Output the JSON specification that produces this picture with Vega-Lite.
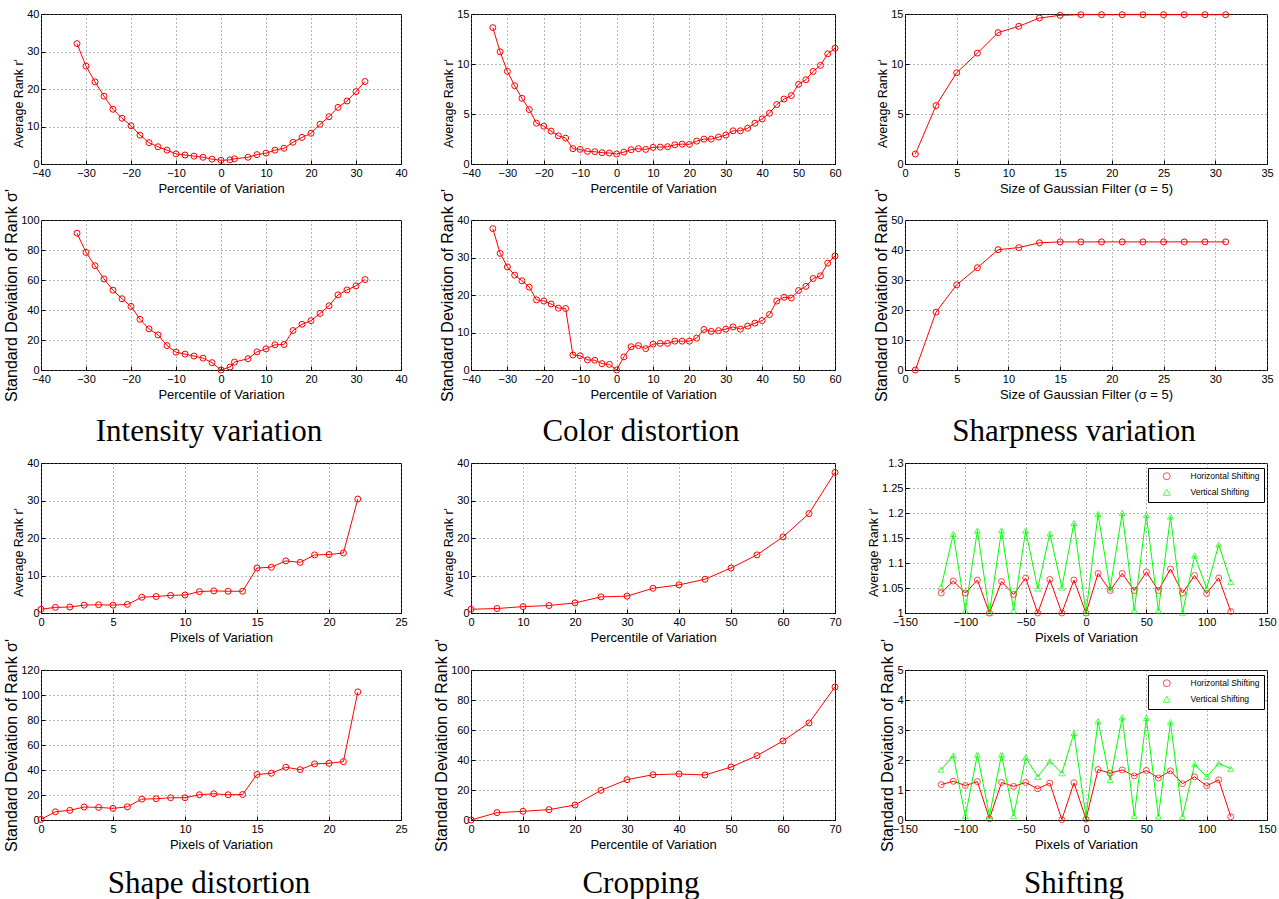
{
"$schema": "https://vega.github.io/schema/vega-lite/v6.json",
"padding": {"left": 3, "top": 7, "right": 0, "bottom": 0},
"background": "white",
"datasets": {
"intensity": [
{"x":-32,"avg":32.1,"std":91.2},{"x":-30,"avg":26.1,"std":78.4},{"x":-28,"avg":21.9,"std":69.5},{"x":-26,"avg":18.1,"std":60.7},{"x":-24,"avg":14.6,"std":53.2},{"x":-22,"avg":12.2,"std":47.5},{"x":-20,"avg":10.2,"std":42.4},{"x":-18,"avg":7.7,"std":33.8},{"x":-16,"avg":5.7,"std":27.4},{"x":-14,"avg":4.6,"std":23.4},{"x":-12,"avg":3.7,"std":16.3},{"x":-10,"avg":2.7,"std":11.9},{"x":-8,"avg":2.4,"std":10.6},{"x":-6,"avg":2.1,"std":9.3},{"x":-4,"avg":1.8,"std":7.9},{"x":-2,"avg":1.3,"std":4.9},{"x":0,"avg":1.0,"std":0},{"x":2,"avg":1.1,"std":2.0},{"x":3,"avg":1.4,"std":5.3},{"x":6,"avg":1.8,"std":7.5},{"x":8,"avg":2.5,"std":12.1},{"x":10,"avg":2.9,"std":14.1},{"x":12,"avg":3.7,"std":16.8},{"x":14,"avg":4.2,"std":17.0},{"x":16,"avg":5.8,"std":26.3},{"x":18,"avg":7.1,"std":30.5},{"x":20,"avg":8.2,"std":32.9},{"x":22,"avg":10.6,"std":37.7},{"x":24,"avg":12.6,"std":42.8},{"x":26,"avg":15.1,"std":50.1},{"x":28,"avg":16.8,"std":53.4},{"x":30,"avg":19.3,"std":56.1},{"x":32,"avg":22.0,"std":60.3}
],
"color": [
{"x":-34,"avg":13.64,"std":37.7},{"x":-32,"avg":11.22,"std":31.1},{"x":-30,"avg":9.26,"std":27.5},{"x":-28,"avg":7.83,"std":25.3},{"x":-26,"avg":6.57,"std":23.8},{"x":-24,"avg":5.44,"std":22.1},{"x":-22,"avg":4.08,"std":18.7},{"x":-20,"avg":3.78,"std":18.4},{"x":-18,"avg":3.29,"std":17.6},{"x":-16,"avg":2.82,"std":16.5},{"x":-14,"avg":2.59,"std":16.4},{"x":-12,"avg":1.53,"std":4.0},{"x":-10,"avg":1.46,"std":3.8},{"x":-8,"avg":1.26,"std":2.7},{"x":-6,"avg":1.23,"std":2.6},{"x":-4,"avg":1.13,"std":1.7},{"x":-2,"avg":1.10,"std":1.5},{"x":0,"avg":1.0,"std":0},{"x":2,"avg":1.19,"std":3.5},{"x":4,"avg":1.43,"std":6.2},{"x":6,"avg":1.53,"std":6.5},{"x":8,"avg":1.46,"std":5.7},{"x":10,"avg":1.66,"std":6.9},{"x":12,"avg":1.69,"std":7.1},{"x":14,"avg":1.73,"std":7.1},{"x":16,"avg":1.92,"std":7.7},{"x":18,"avg":1.99,"std":7.7},{"x":20,"avg":1.96,"std":7.7},{"x":22,"avg":2.29,"std":8.5},{"x":24,"avg":2.49,"std":10.8},{"x":26,"avg":2.49,"std":10.3},{"x":28,"avg":2.69,"std":10.5},{"x":30,"avg":2.89,"std":10.9},{"x":32,"avg":3.32,"std":11.5},{"x":34,"avg":3.32,"std":10.9},{"x":36,"avg":3.58,"std":11.7},{"x":38,"avg":4.08,"std":12.5},{"x":40,"avg":4.51,"std":13.2},{"x":42,"avg":5.08,"std":14.8},{"x":44,"avg":5.94,"std":18.4},{"x":46,"avg":6.5,"std":19.4},{"x":48,"avg":6.84,"std":19.2},{"x":50,"avg":7.97,"std":21.2},{"x":52,"avg":8.43,"std":22.3},{"x":54,"avg":9.26,"std":24.4},{"x":56,"avg":9.86,"std":25.1},{"x":58,"avg":11.02,"std":28.5},{"x":60,"avg":11.58,"std":30.4}
],
"sharp": [
{"x":1,"avg":1.0,"std":0},{"x":3,"avg":5.84,"std":19.3},{"x":5,"avg":9.13,"std":28.4},{"x":7,"avg":11.09,"std":34.1},{"x":9,"avg":13.14,"std":40.1},{"x":11,"avg":13.77,"std":40.8},{"x":13,"avg":14.6,"std":42.4},{"x":15,"avg":14.87,"std":42.7},{"x":17,"avg":14.93,"std":42.7},{"x":19,"avg":14.93,"std":42.7},{"x":21,"avg":14.93,"std":42.7},{"x":23,"avg":14.93,"std":42.7},{"x":25,"avg":14.93,"std":42.7},{"x":27,"avg":14.93,"std":42.7},{"x":29,"avg":14.93,"std":42.7},{"x":31,"avg":14.93,"std":42.7}
],
"shape": [
{"x":0,"avg":1.0,"std":0.5},{"x":1,"avg":1.5,"std":6.6},{"x":2,"avg":1.6,"std":7.7},{"x":3,"avg":2.1,"std":10.4},{"x":4,"avg":2.2,"std":10.1},{"x":5,"avg":2.1,"std":9.3},{"x":6,"avg":2.3,"std":10.6},{"x":7,"avg":4.2,"std":16.7},{"x":8,"avg":4.4,"std":17.0},{"x":9,"avg":4.7,"std":17.8},{"x":10,"avg":4.8,"std":17.8},{"x":11,"avg":5.7,"std":20.2},{"x":12,"avg":5.9,"std":21.0},{"x":13,"avg":5.8,"std":20.2},{"x":14,"avg":5.8,"std":20.4},{"x":15,"avg":12.0,"std":36.4},{"x":16,"avg":12.2,"std":37.4},{"x":17,"avg":13.9,"std":42.2},{"x":18,"avg":13.5,"std":40.3},{"x":19,"avg":15.5,"std":44.9},{"x":20,"avg":15.6,"std":45.4},{"x":21,"avg":16.0,"std":46.7},{"x":22,"avg":30.4,"std":102.5}
],
"crop": [
{"x":0,"avg":1.0,"std":0},{"x":5,"avg":1.2,"std":4.9},{"x":10,"avg":1.7,"std":5.8},{"x":15,"avg":2.0,"std":6.9},{"x":20,"avg":2.7,"std":10.0},{"x":25,"avg":4.3,"std":19.8},{"x":30,"avg":4.5,"std":26.9},{"x":35,"avg":6.6,"std":30.2},{"x":40,"avg":7.5,"std":30.7},{"x":45,"avg":9.0,"std":30.0},{"x":50,"avg":12.0,"std":35.3},{"x":55,"avg":15.5,"std":42.9},{"x":60,"avg":20.3,"std":52.7},{"x":65,"avg":26.5,"std":64.7},{"x":70,"avg":37.5,"std":88.7}
],
"shift": [
{"series":"Horizontal Shifting","x":-120,"avg":1.040,"std":1.18},{"series":"Horizontal Shifting","x":-110,"avg":1.064,"std":1.29},{"series":"Horizontal Shifting","x":-100,"avg":1.040,"std":1.15},{"series":"Horizontal Shifting","x":-90,"avg":1.066,"std":1.28},{"series":"Horizontal Shifting","x":-80,"avg":1.000,"std":0.04},{"series":"Horizontal Shifting","x":-70,"avg":1.063,"std":1.25},{"series":"Horizontal Shifting","x":-60,"avg":1.037,"std":1.12},{"series":"Horizontal Shifting","x":-50,"avg":1.070,"std":1.25},{"series":"Horizontal Shifting","x":-40,"avg":1.000,"std":1.04},{"series":"Horizontal Shifting","x":-30,"avg":1.067,"std":1.23},{"series":"Horizontal Shifting","x":-20,"avg":1.000,"std":0.01},{"series":"Horizontal Shifting","x":-10,"avg":1.066,"std":1.24},{"series":"Horizontal Shifting","x":0,"avg":1.000,"std":0.03},{"series":"Horizontal Shifting","x":10,"avg":1.079,"std":1.68},{"series":"Horizontal Shifting","x":20,"avg":1.045,"std":1.56},{"series":"Horizontal Shifting","x":30,"avg":1.079,"std":1.67},{"series":"Horizontal Shifting","x":40,"avg":1.045,"std":1.47},{"series":"Horizontal Shifting","x":50,"avg":1.082,"std":1.65},{"series":"Horizontal Shifting","x":60,"avg":1.045,"std":1.40},{"series":"Horizontal Shifting","x":70,"avg":1.088,"std":1.64},{"series":"Horizontal Shifting","x":80,"avg":1.040,"std":1.21},{"series":"Horizontal Shifting","x":90,"avg":1.075,"std":1.44},{"series":"Horizontal Shifting","x":100,"avg":1.039,"std":1.14},{"series":"Horizontal Shifting","x":110,"avg":1.070,"std":1.34},{"series":"Horizontal Shifting","x":120,"avg":1.003,"std":0.11},
{"series":"Vertical Shifting","x":-120,"avg":1.052,"std":1.68},{"series":"Vertical Shifting","x":-110,"avg":1.158,"std":2.15},{"series":"Vertical Shifting","x":-100,"avg":1.005,"std":0.13},{"series":"Vertical Shifting","x":-90,"avg":1.165,"std":2.18},{"series":"Vertical Shifting","x":-80,"avg":1.000,"std":0.14},{"series":"Vertical Shifting","x":-70,"avg":1.165,"std":2.18},{"series":"Vertical Shifting","x":-60,"avg":1.005,"std":0.13},{"series":"Vertical Shifting","x":-50,"avg":1.165,"std":2.09},{"series":"Vertical Shifting","x":-40,"avg":1.049,"std":1.44},{"series":"Vertical Shifting","x":-30,"avg":1.159,"std":1.96},{"series":"Vertical Shifting","x":-20,"avg":1.051,"std":1.56},{"series":"Vertical Shifting","x":-10,"avg":1.180,"std":2.90},{"series":"Vertical Shifting","x":0,"avg":1.000,"std":0.11},{"series":"Vertical Shifting","x":10,"avg":1.198,"std":3.29},{"series":"Vertical Shifting","x":20,"avg":1.049,"std":1.33},{"series":"Vertical Shifting","x":30,"avg":1.200,"std":3.42},{"series":"Vertical Shifting","x":40,"avg":1.005,"std":0.14},{"series":"Vertical Shifting","x":50,"avg":1.196,"std":3.40},{"series":"Vertical Shifting","x":60,"avg":1.005,"std":0.12},{"series":"Vertical Shifting","x":70,"avg":1.193,"std":3.26},{"series":"Vertical Shifting","x":80,"avg":1.001,"std":0.11},{"series":"Vertical Shifting","x":90,"avg":1.115,"std":1.86},{"series":"Vertical Shifting","x":100,"avg":1.049,"std":1.44},{"series":"Vertical Shifting","x":110,"avg":1.137,"std":1.89},{"series":"Vertical Shifting","x":120,"avg":1.062,"std":1.71}
]
},
"spacing": 8,
"resolve": {"scale": {"color": "independent", "shape": "independent", "stroke": "independent"}, "legend": {"color": "independent", "shape": "independent", "stroke": "independent"}},
"vconcat": [
{"spacing": -9, "vconcat": [
 {"spacing": 70, "bounds": "flush", "hconcat": [
  {"width":360,"height":150,"data":{"name":"intensity"},
   "mark":{"type":"line","color":"#ff0000","strokeWidth":1,"point":{"filled":false,"size":36,"strokeWidth":1,"color":"#ff0000"}},
   "encoding":{
    "x":{"field":"x","type":"quantitative","scale":{"domain":[-40,40],"nice":false,"zero":false},"axis":{"values":[-40,-30,-20,-10,0,10,20,30,40],"title":"Percentile of Variation"}},
    "y":{"field":"avg","type":"quantitative","scale":{"domain":[0,40],"nice":false,"zero":false},"axis":{"values":[0,10,20,30,40],"title":"Average Rank r'","titleFontSize":12.5,"titleY":89}}}},
  {"width":364,"height":150,"data":{"name":"color"},
   "mark":{"type":"line","color":"#ff0000","strokeWidth":1,"point":{"filled":false,"size":36,"strokeWidth":1,"color":"#ff0000"}},
   "encoding":{
    "x":{"field":"x","type":"quantitative","scale":{"domain":[-40,60],"nice":false,"zero":false},"axis":{"values":[-40,-30,-20,-10,0,10,20,30,40,50,60],"title":"Percentile of Variation"}},
    "y":{"field":"avg","type":"quantitative","scale":{"domain":[0,15],"nice":false,"zero":false},"axis":{"values":[0,5,10,15],"title":"Average Rank r'","titleFontSize":12.5,"titleY":89}}}},
  {"width":362,"height":150,"data":{"name":"sharp"},
   "mark":{"type":"line","color":"#ff0000","strokeWidth":1,"point":{"filled":false,"size":36,"strokeWidth":1,"color":"#ff0000"}},
   "encoding":{
    "x":{"field":"x","type":"quantitative","scale":{"domain":[0,35],"nice":false,"zero":false},"axis":{"values":[0,5,10,15,20,25,30,35],"title":"Size of Gaussian Filter (σ = 5)"}},
    "y":{"field":"avg","type":"quantitative","scale":{"domain":[0,15],"nice":false,"zero":false},"axis":{"values":[0,5,10,15],"title":"Average Rank r'","titleFontSize":12.5,"titleY":89}}}}
 ]},
 {"spacing": 70, "bounds": "flush", "hconcat": [
  {"width":360,"height":150,"data":{"name":"intensity"},
   "title":{"text":"Intensity variation","orient":"bottom","anchor":"middle","frame":"group","font":"Liberation Serif","fontSize":31,"fontWeight":"normal","color":"black","offset":15,"dx":-12},
   "mark":{"type":"line","color":"#ff0000","strokeWidth":1,"point":{"filled":false,"size":36,"strokeWidth":1,"color":"#ff0000"}},
   "encoding":{
    "x":{"field":"x","type":"quantitative","scale":{"domain":[-40,40],"nice":false,"zero":false},"axis":{"values":[-40,-30,-20,-10,0,10,20,30,40],"title":"Percentile of Variation"}},
    "y":{"field":"std","type":"quantitative","scale":{"domain":[0,100],"nice":false,"zero":false},"axis":{"values":[0,20,40,60,80,100],"title":"Standard Deviation of Rank σ'","titleFontSize":16}}}},
  {"width":364,"height":150,"data":{"name":"color"},
   "title":{"text":"Color distortion","orient":"bottom","anchor":"middle","frame":"group","font":"Liberation Serif","fontSize":31,"fontWeight":"normal","color":"black","offset":15,"dx":-12},
   "mark":{"type":"line","color":"#ff0000","strokeWidth":1,"point":{"filled":false,"size":36,"strokeWidth":1,"color":"#ff0000"}},
   "encoding":{
    "x":{"field":"x","type":"quantitative","scale":{"domain":[-40,60],"nice":false,"zero":false},"axis":{"values":[-40,-30,-20,-10,0,10,20,30,40,50,60],"title":"Percentile of Variation"}},
    "y":{"field":"std","type":"quantitative","scale":{"domain":[0,40],"nice":false,"zero":false},"axis":{"values":[0,10,20,30,40],"title":"Standard Deviation of Rank σ'","titleFontSize":16}}}},
  {"width":362,"height":150,"data":{"name":"sharp"},
   "title":{"text":"Sharpness variation","orient":"bottom","anchor":"middle","frame":"group","font":"Liberation Serif","fontSize":31,"fontWeight":"normal","color":"black","offset":15,"dx":-12},
   "mark":{"type":"line","color":"#ff0000","strokeWidth":1,"point":{"filled":false,"size":36,"strokeWidth":1,"color":"#ff0000"}},
   "encoding":{
    "x":{"field":"x","type":"quantitative","scale":{"domain":[0,35],"nice":false,"zero":false},"axis":{"values":[0,5,10,15,20,25,30,35],"title":"Size of Gaussian Filter (σ = 5)"}},
    "y":{"field":"std","type":"quantitative","scale":{"domain":[0,50],"nice":false,"zero":false},"axis":{"values":[0,10,20,30,40,50],"title":"Standard Deviation of Rank σ'","titleFontSize":16}}}}
 ]}
]},
{"spacing": -8,
 "resolve": {"scale": {"color": "independent", "shape": "independent", "stroke": "independent"}, "legend": {"color": "independent", "shape": "independent", "stroke": "independent"}},
 "vconcat": [
 {"spacing": 70, "bounds": "flush",
  "resolve": {"scale": {"color": "independent", "shape": "independent", "stroke": "independent"}, "legend": {"color": "independent", "shape": "independent", "stroke": "independent"}},
  "hconcat": [
  {"width":360,"height":150,"data":{"name":"shape"},
   "mark":{"type":"line","color":"#ff0000","strokeWidth":1,"point":{"filled":false,"size":36,"strokeWidth":1,"color":"#ff0000"}},
   "encoding":{
    "x":{"field":"x","type":"quantitative","scale":{"domain":[0,25],"nice":false,"zero":false},"axis":{"values":[0,5,10,15,20,25],"title":"Pixels of Variation"}},
    "y":{"field":"avg","type":"quantitative","scale":{"domain":[0,40],"nice":false,"zero":false},"axis":{"values":[0,10,20,30,40],"title":"Average Rank r'","titleFontSize":12.5,"titleY":89}}}},
  {"width":364,"height":150,"data":{"name":"crop"},
   "mark":{"type":"line","color":"#ff0000","strokeWidth":1,"point":{"filled":false,"size":36,"strokeWidth":1,"color":"#ff0000"}},
   "encoding":{
    "x":{"field":"x","type":"quantitative","scale":{"domain":[0,70],"nice":false,"zero":false},"axis":{"values":[0,10,20,30,40,50,60,70],"title":"Percentile of Variation"}},
    "y":{"field":"avg","type":"quantitative","scale":{"domain":[0,40],"nice":false,"zero":false},"axis":{"values":[0,10,20,30,40],"title":"Average Rank r'","titleFontSize":12.5,"titleY":89}}}},
  {"width":362,"height":150,"data":{"name":"shift"},
   "encoding":{
    "x":{"field":"x","type":"quantitative","scale":{"domain":[-150,150],"nice":false,"zero":false},"axis":{"values":[-150,-100,-50,0,50,100,150],"title":"Pixels of Variation"}},
    "y":{"field":"avg","type":"quantitative","scale":{"domain":[1,1.3],"nice":false,"zero":false},"axis":{"values":[1,1.05,1.1,1.15,1.2,1.25,1.3],"format":"~g","title":"Average Rank r'","titleFontSize":12.5,"titleY":89}}},
   "layer":[
    {"mark":{"type":"line","strokeWidth":1},"encoding":{"stroke":{"field":"series","type":"nominal","scale":{"domain":["Horizontal Shifting","Vertical Shifting"],"range":["#ff0000","#00ff00"]},
      "legend":{"title":null,"orient":"none","legendX":243,"legendY":5,"symbolType":"M-4,0L4,0","symbolSize":49,"symbolOffset":10.5,"labelOffset":19.5,"padding":4,"rowPadding":5,"labelFontSize":8.5,"fillColor":"white","strokeColor":"black"}}}},
    {"mark":{"type":"point","filled":false,"size":36,"strokeWidth":1},"encoding":{
      "color":{"field":"series","type":"nominal","scale":{"domain":["Horizontal Shifting","Vertical Shifting"],"range":["#ff0000","#00ff00"]},
        "legend":{"title":null,"orient":"none","legendX":243,"legendY":5,"symbolSize":36,"symbolOffset":11,"labelOffset":20,"padding":4,"rowPadding":5,"labelFontSize":8.5,"fillColor":"transparent","strokeColor":"transparent"}},
      "shape":{"field":"series","type":"nominal","scale":{"domain":["Horizontal Shifting","Vertical Shifting"],"range":["circle","triangle-up"]},"legend":null}}}
   ]}
 ]},
 {"spacing": 70, "bounds": "flush",
  "resolve": {"scale": {"color": "independent", "shape": "independent", "stroke": "independent"}, "legend": {"color": "independent", "shape": "independent", "stroke": "independent"}},
  "hconcat": [
  {"width":360,"height":150,"data":{"name":"shape"},
   "title":{"text":"Shape distortion","orient":"bottom","anchor":"middle","frame":"group","font":"Liberation Serif","fontSize":31,"fontWeight":"normal","color":"black","offset":17,"dx":-12},
   "mark":{"type":"line","color":"#ff0000","strokeWidth":1,"point":{"filled":false,"size":36,"strokeWidth":1,"color":"#ff0000"}},
   "encoding":{
    "x":{"field":"x","type":"quantitative","scale":{"domain":[0,25],"nice":false,"zero":false},"axis":{"values":[0,5,10,15,20,25],"title":"Pixels of Variation"}},
    "y":{"field":"std","type":"quantitative","scale":{"domain":[0,120],"nice":false,"zero":false},"axis":{"values":[0,20,40,60,80,100,120],"title":"Standard Deviation of Rank σ'","titleFontSize":16}}}},
  {"width":364,"height":150,"data":{"name":"crop"},
   "title":{"text":"Cropping","orient":"bottom","anchor":"middle","frame":"group","font":"Liberation Serif","fontSize":31,"fontWeight":"normal","color":"black","offset":17,"dx":-12},
   "mark":{"type":"line","color":"#ff0000","strokeWidth":1,"point":{"filled":false,"size":36,"strokeWidth":1,"color":"#ff0000"}},
   "encoding":{
    "x":{"field":"x","type":"quantitative","scale":{"domain":[0,70],"nice":false,"zero":false},"axis":{"values":[0,10,20,30,40,50,60,70],"title":"Percentile of Variation"}},
    "y":{"field":"std","type":"quantitative","scale":{"domain":[0,100],"nice":false,"zero":false},"axis":{"values":[0,20,40,60,80,100],"title":"Standard Deviation of Rank σ'","titleFontSize":16}}}},
  {"width":362,"height":150,"data":{"name":"shift"},
   "title":{"text":"Shifting","orient":"bottom","anchor":"middle","frame":"group","font":"Liberation Serif","fontSize":31,"fontWeight":"normal","color":"black","offset":17,"dx":-12},
   "encoding":{
    "x":{"field":"x","type":"quantitative","scale":{"domain":[-150,150],"nice":false,"zero":false},"axis":{"values":[-150,-100,-50,0,50,100,150],"title":"Pixels of Variation"}},
    "y":{"field":"std","type":"quantitative","scale":{"domain":[0,5],"nice":false,"zero":false},"axis":{"values":[0,1,2,3,4,5],"title":"Standard Deviation of Rank σ'","titleFontSize":16}}},
   "layer":[
    {"mark":{"type":"line","strokeWidth":1},"encoding":{"stroke":{"field":"series","type":"nominal","scale":{"domain":["Horizontal Shifting","Vertical Shifting"],"range":["#ff0000","#00ff00"]},
      "legend":{"title":null,"orient":"none","legendX":243,"legendY":5,"symbolType":"M-4,0L4,0","symbolSize":49,"symbolOffset":10.5,"labelOffset":19.5,"padding":4,"rowPadding":5,"labelFontSize":8.5,"fillColor":"white","strokeColor":"black"}}}},
    {"mark":{"type":"point","filled":false,"size":36,"strokeWidth":1},"encoding":{
      "color":{"field":"series","type":"nominal","scale":{"domain":["Horizontal Shifting","Vertical Shifting"],"range":["#ff0000","#00ff00"]},
        "legend":{"title":null,"orient":"none","legendX":243,"legendY":5,"symbolSize":36,"symbolOffset":11,"labelOffset":20,"padding":4,"rowPadding":5,"labelFontSize":8.5,"fillColor":"transparent","strokeColor":"transparent"}},
      "shape":{"field":"series","type":"nominal","scale":{"domain":["Horizontal Shifting","Vertical Shifting"],"range":["circle","triangle-up"]},"legend":null}}}
   ]}
 ]}
]}
],
"config": {
 "font": "Liberation Sans",
 "view": {"stroke": "black", "strokeWidth": 1},
 "axis": {"domain": false, "ticks": true, "tickSize": -4, "tickColor": "black", "tickWidth": 1, "grid": true, "gridColor": "#6e6e6e", "gridDash": [1, 3], "gridWidth": 1, "labelFont": "Liberation Sans", "labelFontSize": 11, "labelColor": "black", "labelFlush": false, "labelOverlap": false, "titleFont": "Liberation Sans", "titleFontWeight": "normal", "titleColor": "black", "titleFontSize": 13},
 "axisX": {"labelPadding": 7, "titlePadding": 4},
 "axisY": {"labelPadding": 6, "titlePadding": 1},
 "legend": {"labelFont": "Liberation Sans", "labelColor": "black", "symbolStrokeWidth": 1}
}
}
